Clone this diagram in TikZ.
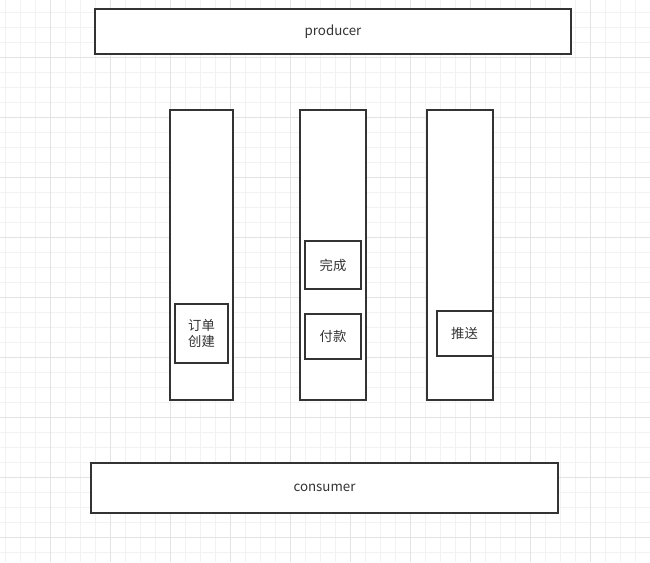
\documentclass[tikz,border=0pt]{standalone}
\usepackage{fontspec}
\setmainfont{Liberation Sans}
\newfontfamily\cjk{Noto Sans CJK SC}
\definecolor{lineGray}{HTML}{333333}
\definecolor{gridMinor}{HTML}{F2F2F2}
\definecolor{gridMajor}{HTML}{E3E3E3}

\begin{document}
\begin{tikzpicture}[x=0.75pt,y=-0.75pt,
    box/.style={rectangle,draw=lineGray,line width=1.5pt,fill=white,inner sep=0pt,
        text=lineGray,font=\cjk\fontsize{10}{12.5}\selectfont,align=center},
    px/.style 2 args={minimum width=#1*0.75pt,minimum height=#2*0.75pt}]
    \useasboundingbox (0,0) rectangle (650,562);
    \fill[white] (0,0) rectangle (650,562);
    % grid
    \foreach \x in {5,20,...,650} \draw[gridMinor,line width=0.75pt] (\x,0) -- (\x,562);
    \foreach \y in {12,27,...,562} \draw[gridMinor,line width=0.75pt] (0,\y) -- (650,\y);
    \foreach \x in {50,110,...,650} \draw[gridMajor,line width=0.75pt] (\x,0) -- (\x,562);
    \foreach \y in {57,117,...,562} \draw[gridMajor,line width=0.75pt] (0,\y) -- (650,\y);

    \node[box,px={476}{45}] (producer) at (333,31.5) {producer};
    \node[box,px={467}{50}] (consumer) at (324.5,488) {consumer};

    % queues
    \node[box,px={63}{290}] (queueA) at (201.5,255) {};
    \node[box,px={66}{290}] (queueB) at (333,255) {};
    \node[box,px={66}{290}] (queueC) at (460,255) {};

    % messages
    \node[box,px={53}{59}] (msgCreate) at (201.5,333.5) {订单\\创建};
    \node[box,px={56}{48}] (msgDone) at (333,265) {完成};
    \node[box,px={56}{45}] (msgPay) at (333,336) {付款};
    \node[box,px={56}{45}] (msgPush) at (464.5,333) {推送};
\end{tikzpicture}
\end{document}
